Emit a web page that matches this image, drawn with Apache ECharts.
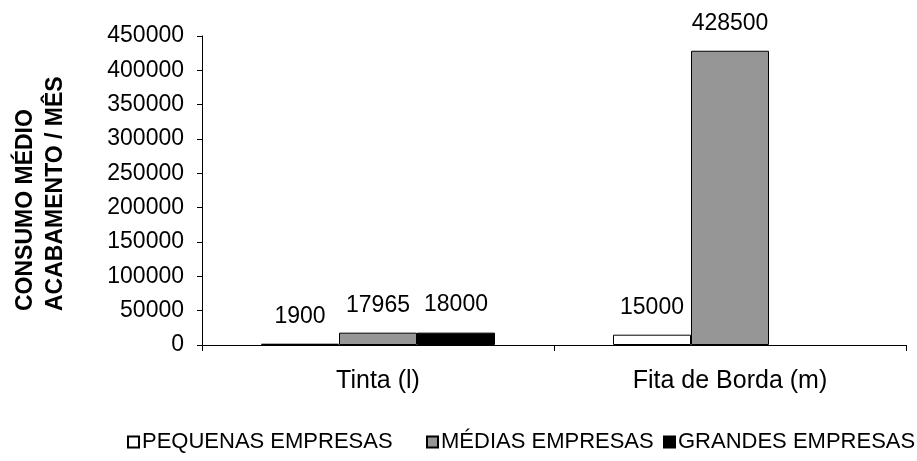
<!DOCTYPE html>
<html><head><meta charset="utf-8">
<script src="https://cdn.jsdelivr.net/npm/echarts@6/dist/echarts.min.js"></script>
<style>html,body{margin:0;padding:0;background:#fff}#c{width:917px;height:461px}</style>
</head><body><div id="c"></div>
<script>
var categories = ['Tinta (l)', 'Fita de Borda (m)'];
var pequenas = [1900, 15000];
var medias = [17965, 428500];
var grandes = [18000, null];
var seriesNames = ['PEQUENAS EMPRESAS', 'MÉDIAS EMPRESAS', 'GRANDES EMPRESAS'];
var yTitle = 'CONSUMO MÉDIO\nACABAMENTO / MÊS';

var FONT = 'Liberation Sans, Arial, sans-serif';
var chart = echarts.init(document.getElementById('c'));
var lbl = {show: true, position: 'top', distance: 16, fontSize: 23, color: '#000', fontFamily: FONT};
function leg(name, left) {
  return {data: [name], left: left, top: 431, icon: 'rect', itemWidth: 11, itemHeight: 11, itemGap: 0,
    textStyle: {fontSize: 22, color: '#000', fontFamily: FONT, padding: [0, 0, 0, -2]}, selectedMode: false, padding: 0};
}
chart.setOption({
  animation: false,
  grid: {left: 202, right: 11, top: 36, bottom: 116},
  legend: [leg(seriesNames[0], 127), leg(seriesNames[1], 426), leg(seriesNames[2], 663)],
  xAxis: {type: 'category', data: categories,
    axisLine: {lineStyle: {color: '#000', width: 1}},
    axisTick: {show: true, length: 6, lineStyle: {color: '#000'}},
    axisLabel: {fontSize: 25, color: '#000', fontFamily: FONT, margin: 24}},
  yAxis: {type: 'value', min: 0, max: 450000, interval: 50000,
    axisLine: {show: true, lineStyle: {color: '#000', width: 1}},
    axisTick: {show: true, length: 5, lineStyle: {color: '#000'}},
    splitLine: {show: false},
    axisLabel: {fontSize: 23, color: '#000', fontFamily: FONT, margin: 18,
      formatter: function (v) { return String(v); }}},
  graphic: [{type: 'text', x: 41, y: 311, rotation: Math.PI / 2,
    style: {text: yTitle, font: 'bold 23px ' + FONT, fill: '#000', align: 'left', verticalAlign: 'middle',
      textAlign: 'left', textVerticalAlign: 'middle', lineHeight: 30}}],
  series: [
    {name: seriesNames[0], type: 'bar', data: pequenas, barWidth: 78, barGap: '0%',
      itemStyle: {color: '#fff', borderColor: '#000', borderWidth: 1}, label: lbl},
    {name: seriesNames[1], type: 'bar', data: medias, barWidth: 78, barGap: '0%',
      itemStyle: {color: '#969696', borderColor: '#000', borderWidth: 1}, label: lbl},
    {name: seriesNames[2], type: 'bar', data: grandes, barWidth: 78, barGap: '0%',
      itemStyle: {color: '#000', borderColor: '#000', borderWidth: 1}, label: lbl}
  ]
});
</script></body></html>
